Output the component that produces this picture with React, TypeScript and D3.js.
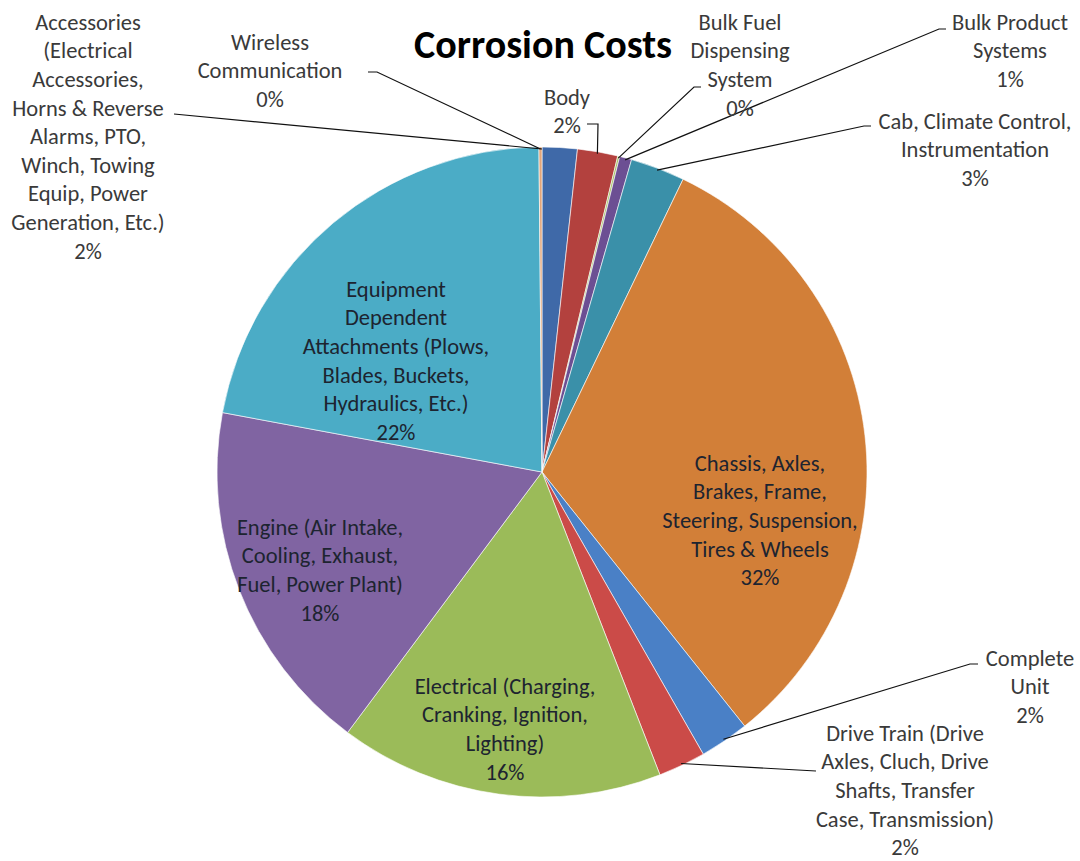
import React from 'react'
import * as d3 from 'd3'

// slices in the order Excel drew them, clockwise from 12 o'clock
const categories = [
  'Accessories', 'Body', 'Bulk Fuel', 'Bulk Product', 'Cab', 'Chassis',
  'Complete Unit', 'Drive Train', 'Electrical', 'Engine', 'Equipment', 'Wireless',
]
const values = [1.74, 2.0, 0.1, 0.6, 2.7, 32.1, 2.45, 2.35, 16.1, 17.7, 21.9, 0.15]
const colors = [
  '#3F69A8', '#B3413E', '#A9C46A', '#6C4F93', '#3A90A9', '#D27F38',
  '#4A80C6', '#CB4B48', '#9BBB59', '#8064A2', '#4BACC6', '#E2A57A',
]
const labelLines = [
  ['Accessories', '(Electrical', 'Accessories,', 'Horns & Reverse', 'Alarms, PTO,', 'Winch, Towing', 'Equip, Power', 'Generation, Etc.)'],
  ['Body'],
  ['Bulk Fuel', 'Dispensing', 'System'],
  ['Bulk Product', 'Systems'],
  ['Cab, Climate Control,', 'Instrumentation'],
  ['Chassis, Axles,', 'Brakes, Frame,', 'Steering, Suspension,', 'Tires & Wheels'],
  ['Complete', 'Unit'],
  ['Drive Train (Drive', 'Axles, Cluch, Drive', 'Shafts, Transfer', 'Case, Transmission)'],
  ['Electrical (Charging,', 'Cranking, Ignition,', 'Lighting)'],
  ['Engine (Air Intake,', 'Cooling, Exhaust,', 'Fuel, Power Plant)'],
  ['Equipment', 'Dependent', 'Attachments (Plows,', 'Blades, Buckets,', 'Hydraulics, Etc.)'],
  ['Wireless', 'Communication'],
]

// label placement: text centre x, first line y; leader = polyline from label to slice edge
type Layout = { x: number; y: number; inside?: boolean; leader?: [number, number][]; at?: 'start' | 'mid' }
const labelLayout: Layout[] = [
  { x: 88, y: 22, leader: [[174, 114]], at: 'start' },
  { x: 567, y: 97, leader: [[587, 124], [598, 124]] },
  { x: 740, y: 22, leader: [[701, 87], [694, 87]] },
  { x: 1010, y: 22, leader: [[946, 29], [939, 29]] },
  { x: 975, y: 121, leader: [[871, 126], [864, 126]] },
  { x: 760, y: 463, inside: true },
  { x: 1030, y: 658, leader: [[978, 664], [970, 664]] },
  { x: 905, y: 733, leader: [[816, 771]] },
  { x: 505, y: 686, inside: true },
  { x: 320, y: 527, inside: true },
  { x: 396, y: 289, inside: true },
  { x: 270, y: 42, leader: [[368, 72], [377, 72]], at: 'mid' },
]

const W = 1080
const H = 861
const cx = 542
const cy = 472
const R = 325
const lineH = 28.6
const font = 'Carlito, Calibri, Lato, sans-serif'

export default function App() {
  const total = d3.sum(values)
  const pie = d3.pie<number>().sort(null).value(d => d)
  const arcs = pie(values)
  const arc = d3.arc<d3.PieArcDatum<number>>().innerRadius(0).outerRadius(R)
  const pct = (v: number) => `${Math.round((v / total) * 100)}%`

  const edgePoint = (a: d3.PieArcDatum<number>, at: 'start' | 'mid' = 'mid'): [number, number] => {
    const ang = at === 'start' ? a.startAngle : (a.startAngle + a.endAngle) / 2
    const r = R - 2
    return [cx + r * Math.sin(ang), cy - r * Math.cos(ang)]
  }
  const line = d3.line()

  return (
    <div style={{ position: 'absolute', left: 0, top: 0 }}>
      <svg width={W} height={H} style={{ display: 'block', background: '#fff' }}>
        <text x={543} y={58} textAnchor="middle" fontFamily={font} fontWeight="bold"
          fontSize={40} fill="#000">Corrosion Costs</text>

        <g transform={`translate(${cx},${cy})`}>
          {arcs.map((a, i) => (
            <path key={categories[i]} d={arc(a) || ''} fill={colors[i]}
              stroke="#fff" strokeOpacity={0.6} strokeWidth={1} />
          ))}
        </g>

        {arcs.map((a, i) => {
          const lay = labelLayout[i]
          if (!lay.leader) return null
          const pts = [...lay.leader, edgePoint(a, lay.at)]
          return <path key={'l' + i} d={line(pts) || ''} fill="none" stroke="#111" strokeWidth={1.2} />
        })}

        {arcs.map((a, i) => {
          const lay = labelLayout[i]
          const lines = [...labelLines[i], pct(values[i])]
          return (
            <text key={'t' + i} textAnchor="middle" fontFamily={font} fontSize={22.5}
              fill={lay.inside ? '#1d2430' : '#3a3a3a'}>
              {lines.map((s, k) => (
                <tspan key={k} x={lay.x} y={lay.y + k * lineH} dy="0.35em">{s}</tspan>
              ))}
            </text>
          )
        })}
      </svg>
    </div>
  )
}
